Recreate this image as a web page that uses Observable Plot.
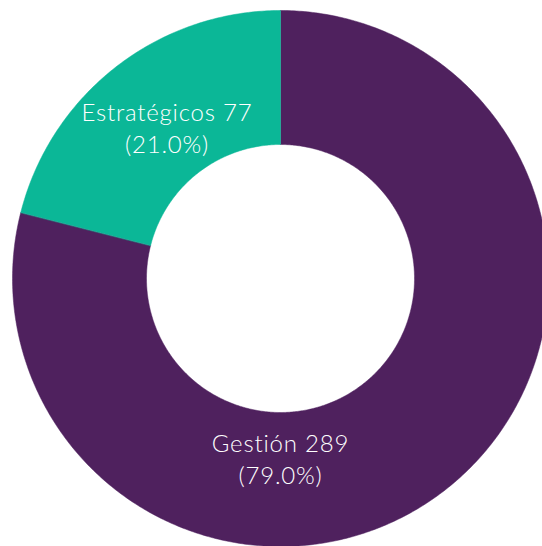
<!DOCTYPE html>
<html>
<head>
<meta charset="utf-8">
<script src="https://cdn.jsdelivr.net/npm/d3@7"></script>
<script src="https://cdn.jsdelivr.net/npm/@observablehq/plot@0.6"></script>
<style>
  html, body { margin: 0; padding: 0; background: #ffffff; overflow: hidden; }
  #chart svg { display: block; overflow: hidden; }
  #chart svg text { letter-spacing: 0.8px; }
</style>
</head>
<body>
<div id="chart"></div>
<script>
// ---- data ----
const categories = ["Gestión", "Estratégicos"];
const counts = [289, 77];
const shares = [79.0, 21.0];
const colors = ["#4f215e", "#0bb797"];

// ---- geometry (unit circle: outer radius 1, inner radius 0.5) ----
const W = 542, H = 546;
const pxPerUnit = 268;          // outer radius in pixels
const cx = 280, cy = 278;       // centre of the ring in pixels
const inner = 0.5, outer = 1;

const pie = d3.pie().sort(null).value(d => d.count)(
  categories.map((c, i) => ({category: c, count: counts[i], share: shares[i]}))
);

// sample each ring sector as a closed polygon (angle 0 = top, clockwise)
const pts = [];
pie.forEach(s => {
  const n = Math.max(8, Math.ceil((s.endAngle - s.startAngle) / 0.01));
  for (let j = 0; j <= n; j++) {
    const a = s.startAngle + (s.endAngle - s.startAngle) * j / n;
    pts.push({category: s.data.category, x: outer * Math.sin(a), y: outer * Math.cos(a)});
  }
  for (let j = n; j >= 0; j--) {
    const a = s.startAngle + (s.endAngle - s.startAngle) * j / n;
    pts.push({category: s.data.category, x: inner * Math.sin(a), y: inner * Math.cos(a)});
  }
});

// labels: placed at 0.69 of the radius; the dominant slice is labelled at the bottom
const labels = pie.map(s => {
  const mid = (s.endAngle - s.startAngle) > Math.PI ? Math.PI : (s.startAngle + s.endAngle) / 2;
  const r = 0.69;
  return {
    category: s.data.category,
    x: r * Math.sin(mid),
    y: r * Math.cos(mid),
    text: `${s.data.category} ${s.data.count}\n(${s.data.share.toFixed(1)}%)`
  };
});

const chart = Plot.plot({
  width: W,
  height: H,
  margin: 0,
  x: {domain: [-cx / pxPerUnit, (W - cx) / pxPerUnit], axis: null},
  y: {domain: [-(H - cy) / pxPerUnit, cy / pxPerUnit], axis: null},
  color: {domain: categories, range: colors},
  style: {background: "#ffffff", overflow: "hidden"},
  marks: [
    Plot.line(pts, {x: "x", y: "y", z: "category", fill: "category", stroke: "category", strokeWidth: 0.5, curve: "linear-closed"}),
    Plot.text(labels, {
      x: "x", y: "y", text: "text",
      fill: "#ffffff",
      fontSize: 24,
      fontWeight: 300,
      fontFamily: "Lato, 'Open Sans', sans-serif",
      lineHeight: 1.33,
      textAnchor: "middle",
      lineAnchor: "middle",
      dy: -6
    })
  ]
});
document.getElementById("chart").appendChild(chart);
</script>
</body>
</html>
